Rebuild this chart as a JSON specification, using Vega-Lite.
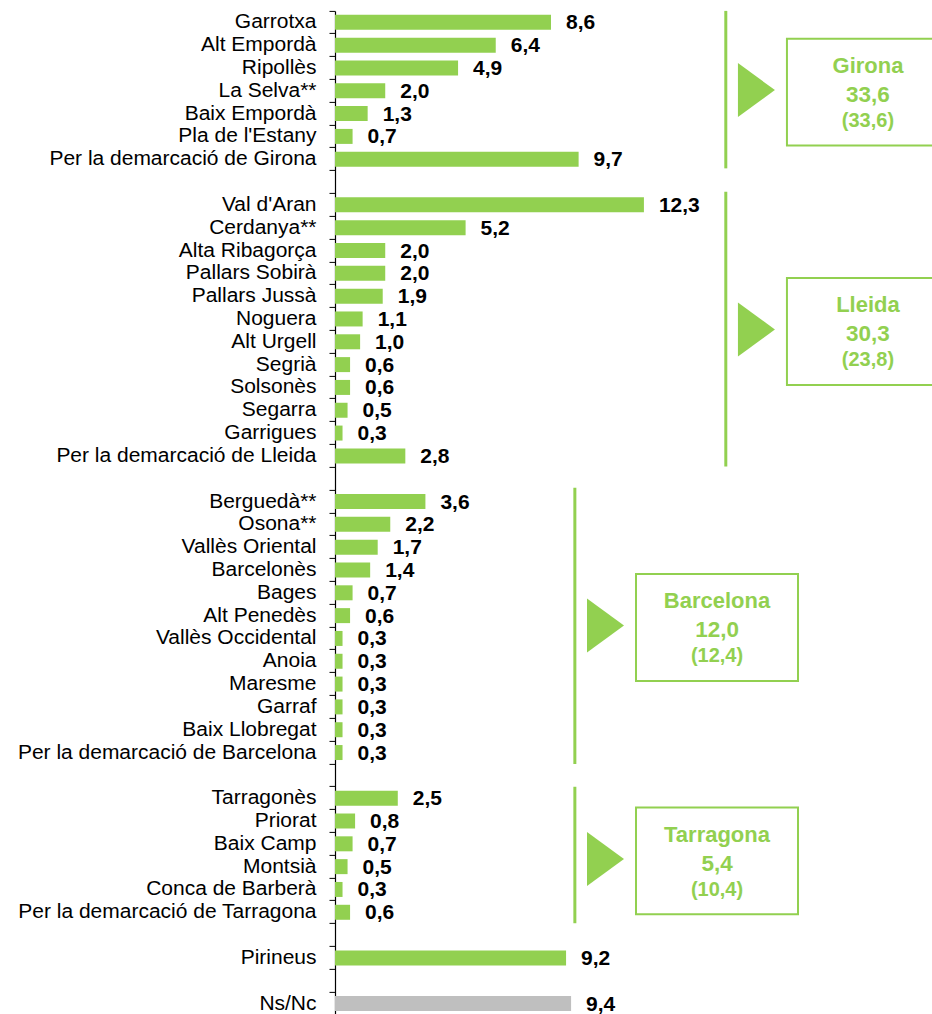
{
  "$schema": "https://vega.github.io/schema/vega-lite/v6.json",
  "width": 597,
  "height": 1004.08,
  "autosize": "none",
  "padding": {"left": 335, "top": 10.9, "right": 0, "bottom": 0},
  "background": "white",
  "config": {
    "view": {"stroke": null},
    "font": "Liberation Sans",
    "locale": {"number": {"decimal": ",", "thousands": ".", "grouping": [3], "currency": ["", " €"]}}
  },
  "datasets": {
    "bars": [
      {"name": "Garrotxa", "value": 8.6, "demarcacio": "Girona"},
      {"name": "Alt Empordà", "value": 6.4, "demarcacio": "Girona"},
      {"name": "Ripollès", "value": 4.9, "demarcacio": "Girona"},
      {"name": "La Selva**", "value": 2.0, "demarcacio": "Girona"},
      {"name": "Baix Empordà", "value": 1.3, "demarcacio": "Girona"},
      {"name": "Pla de l'Estany", "value": 0.7, "demarcacio": "Girona"},
      {"name": "Per la demarcació de Girona", "value": 9.7, "demarcacio": "Girona"},
      {"name": "Val d'Aran", "value": 12.3, "demarcacio": "Lleida"},
      {"name": "Cerdanya**", "value": 5.2, "demarcacio": "Lleida"},
      {"name": "Alta Ribagorça", "value": 2.0, "demarcacio": "Lleida"},
      {"name": "Pallars Sobirà", "value": 2.0, "demarcacio": "Lleida"},
      {"name": "Pallars Jussà", "value": 1.9, "demarcacio": "Lleida"},
      {"name": "Noguera", "value": 1.1, "demarcacio": "Lleida"},
      {"name": "Alt Urgell", "value": 1.0, "demarcacio": "Lleida"},
      {"name": "Segrià", "value": 0.6, "demarcacio": "Lleida"},
      {"name": "Solsonès", "value": 0.6, "demarcacio": "Lleida"},
      {"name": "Segarra", "value": 0.5, "demarcacio": "Lleida"},
      {"name": "Garrigues", "value": 0.3, "demarcacio": "Lleida"},
      {"name": "Per la demarcació de Lleida", "value": 2.8, "demarcacio": "Lleida"},
      {"name": "Berguedà**", "value": 3.6, "demarcacio": "Barcelona"},
      {"name": "Osona**", "value": 2.2, "demarcacio": "Barcelona"},
      {"name": "Vallès Oriental", "value": 1.7, "demarcacio": "Barcelona"},
      {"name": "Barcelonès", "value": 1.4, "demarcacio": "Barcelona"},
      {"name": "Bages", "value": 0.7, "demarcacio": "Barcelona"},
      {"name": "Alt Penedès", "value": 0.6, "demarcacio": "Barcelona"},
      {"name": "Vallès Occidental", "value": 0.3, "demarcacio": "Barcelona"},
      {"name": "Anoia", "value": 0.3, "demarcacio": "Barcelona"},
      {"name": "Maresme", "value": 0.3, "demarcacio": "Barcelona"},
      {"name": "Garraf", "value": 0.3, "demarcacio": "Barcelona"},
      {"name": "Baix Llobregat", "value": 0.3, "demarcacio": "Barcelona"},
      {"name": "Per la demarcació de Barcelona", "value": 0.3, "demarcacio": "Barcelona"},
      {"name": "Tarragonès", "value": 2.5, "demarcacio": "Tarragona"},
      {"name": "Priorat", "value": 0.8, "demarcacio": "Tarragona"},
      {"name": "Baix Camp", "value": 0.7, "demarcacio": "Tarragona"},
      {"name": "Montsià", "value": 0.5, "demarcacio": "Tarragona"},
      {"name": "Conca de Barberà", "value": 0.3, "demarcacio": "Tarragona"},
      {"name": "Per la demarcació de Tarragona", "value": 0.6, "demarcacio": "Tarragona"},
      {"name": "Pirineus", "value": 9.2, "demarcacio": "Pirineus"},
      {"name": "Ns/Nc", "value": 9.4, "demarcacio": "Ns/Nc"}
    ],
    "groups": [
      {"group": "Girona", "total": 33.6, "prev": "(33,6)", "first": 0, "end": 6.9, "mid": 3.47, "column": "right"},
      {"group": "Lleida", "total": 30.3, "prev": "(23,8)", "first": 7.92, "end": 19.97, "mid": 13.96, "column": "right"},
      {"group": "Barcelona", "total": 12.0, "prev": "(12,4)", "first": 20.9, "end": 33.0, "mid": 26.93, "column": "left"},
      {"group": "Tarragona", "total": 5.4, "prev": "(10,4)", "first": 34.0, "end": 39.98, "mid": 37.16, "column": "left"}
    ]
  },
  "resolve": {"scale": {"y": "independent"}},
  "layer": [
    {
      "data": {"name": "bars"},
      "encoding": {
        "y": {
          "field": "name",
          "type": "nominal",
          "title": null,
          "scale": {
            "paddingInner": 0,
            "paddingOuter": 0,
            "domain": [
              "Garrotxa", "Alt Empordà", "Ripollès", "La Selva**", "Baix Empordà", "Pla de l'Estany", "Per la demarcació de Girona",
              " ",
              "Val d'Aran", "Cerdanya**", "Alta Ribagorça", "Pallars Sobirà", "Pallars Jussà", "Noguera", "Alt Urgell", "Segrià", "Solsonès", "Segarra", "Garrigues", "Per la demarcació de Lleida",
              "  ",
              "Berguedà**", "Osona**", "Vallès Oriental", "Barcelonès", "Bages", "Alt Penedès", "Vallès Occidental", "Anoia", "Maresme", "Garraf", "Baix Llobregat", "Per la demarcació de Barcelona",
              "   ",
              "Tarragonès", "Priorat", "Baix Camp", "Montsià", "Conca de Barberà", "Per la demarcació de Tarragona",
              "    ",
              "Pirineus",
              "     ",
              "Ns/Nc"
            ]
          },
          "axis": {
            "title": null,
            "labelFont": "Liberation Sans",
            "labelFontSize": 21,
            "labelColor": "#000000",
            "labelPadding": 13,
            "labelOffset": 0,
            "labelLimit": 500,
            "bandPosition": 0,
            "ticks": true,
            "tickSize": 6,
            "tickColor": "#000000",
            "tickWidth": 1,
            "domainColor": "#000000",
            "domainWidth": 1.2,
            "grid": false
          }
        },
        "x": {
          "field": "value",
          "type": "quantitative",
          "scale": {"domain": [0, 23.77], "nice": false, "zero": true},
          "axis": null
        }
      },
      "layer": [
        {
          "mark": {"type": "bar", "height": {"band": 0.657}},
          "encoding": {
            "color": {
              "condition": {"test": "datum.demarcacio === 'Ns/Nc'", "value": "#BFBFBF"},
              "value": "#92D050"
            }
          }
        },
        {
          "mark": {"type": "text", "align": "left", "baseline": "middle", "dx": 15, "dy": 1, "fontSize": 21, "fontWeight": "bold", "color": "#000000", "font": "Liberation Sans"},
          "encoding": {"text": {"field": "value", "type": "quantitative", "format": ".1f"}}
        }
      ]
    },
    {
      "data": {"name": "groups"},
      "transform": [{"filter": "datum.column === 'right'"}],
      "encoding": {
        "y": {"field": "mid", "type": "quantitative", "scale": {"domain": [0, 44], "reverse": true, "nice": false, "zero": false}, "axis": null}
      },
      "layer": [
        {
          "mark": {"type": "rule", "color": "#92D050", "strokeWidth": 3},
          "encoding": {
            "x": {"datum": 15.56, "type": "quantitative", "scale": {"domain": [0, 23.77], "nice": false, "zero": true}, "axis": null},
            "y": {"field": "first", "type": "quantitative", "scale": {"domain": [0, 44], "reverse": true, "nice": false, "zero": false}, "axis": null},
            "y2": {"field": "end"}
          }
        },
        {
          "mark": {"type": "point", "shape": "M-0.685,-1L0.685,0L-0.685,1Z", "size": 2916, "filled": true, "color": "#92D050", "opacity": 1, "strokeWidth": 0},
          "encoding": {"x": {"datum": 16.78, "type": "quantitative", "scale": {"domain": [0, 23.77], "nice": false, "zero": true}, "axis": null}}
        },
        {
          "mark": {"type": "point", "shape": "M-1,-0.635L1,-0.635L1,0.685L-1,0.685Z", "size": 26244, "filled": false, "color": "#92D050", "strokeWidth": 2, "opacity": 1},
          "encoding": {"x": {"datum": 21.22, "type": "quantitative", "scale": {"domain": [0, 23.77], "nice": false, "zero": true}, "axis": null}}
        },
        {
          "mark": {"type": "text", "align": "center", "baseline": "alphabetic", "dy": -17, "fontSize": 22, "fontWeight": "bold", "color": "#92D050", "font": "Liberation Sans"},
          "encoding": {
            "x": {"datum": 21.22, "type": "quantitative", "scale": {"domain": [0, 23.77], "nice": false, "zero": true}, "axis": null},
            "text": {"field": "group"}
          }
        },
        {
          "mark": {"type": "text", "align": "center", "baseline": "alphabetic", "dy": 12, "fontSize": 22.5, "fontWeight": "bold", "color": "#92D050", "font": "Liberation Sans"},
          "encoding": {
            "x": {"datum": 21.22, "type": "quantitative", "scale": {"domain": [0, 23.77], "nice": false, "zero": true}, "axis": null},
            "text": {"field": "total", "type": "quantitative", "format": ".1f"}
          }
        },
        {
          "mark": {"type": "text", "align": "center", "baseline": "alphabetic", "dy": 37, "fontSize": 20, "fontWeight": "bold", "color": "#92D050", "font": "Liberation Sans"},
          "encoding": {
            "x": {"datum": 21.22, "type": "quantitative", "scale": {"domain": [0, 23.77], "nice": false, "zero": true}, "axis": null},
            "text": {"field": "prev"}
          }
        }
      ]
    },
    {
      "data": {"name": "groups"},
      "transform": [{"filter": "datum.column === 'left'"}],
      "encoding": {
        "y": {"field": "mid", "type": "quantitative", "scale": {"domain": [0, 44], "reverse": true, "nice": false, "zero": false}, "axis": null}
      },
      "layer": [
        {
          "mark": {"type": "rule", "color": "#92D050", "strokeWidth": 3},
          "encoding": {
            "x": {"datum": 9.55, "type": "quantitative", "scale": {"domain": [0, 23.77], "nice": false, "zero": true}, "axis": null},
            "y": {"field": "first", "type": "quantitative", "scale": {"domain": [0, 44], "reverse": true, "nice": false, "zero": false}, "axis": null},
            "y2": {"field": "end"}
          }
        },
        {
          "mark": {"type": "point", "shape": "M-0.685,-1L0.685,0L-0.685,1Z", "size": 2916, "filled": true, "color": "#92D050", "opacity": 1, "strokeWidth": 0},
          "encoding": {"x": {"datum": 10.77, "type": "quantitative", "scale": {"domain": [0, 23.77], "nice": false, "zero": true}, "axis": null}}
        },
        {
          "mark": {"type": "point", "shape": "M-1,-0.635L1,-0.635L1,0.685L-1,0.685Z", "size": 26244, "filled": false, "color": "#92D050", "strokeWidth": 2, "opacity": 1},
          "encoding": {"x": {"datum": 15.21, "type": "quantitative", "scale": {"domain": [0, 23.77], "nice": false, "zero": true}, "axis": null}}
        },
        {
          "mark": {"type": "text", "align": "center", "baseline": "alphabetic", "dy": -17, "fontSize": 22, "fontWeight": "bold", "color": "#92D050", "font": "Liberation Sans"},
          "encoding": {
            "x": {"datum": 15.21, "type": "quantitative", "scale": {"domain": [0, 23.77], "nice": false, "zero": true}, "axis": null},
            "text": {"field": "group"}
          }
        },
        {
          "mark": {"type": "text", "align": "center", "baseline": "alphabetic", "dy": 12, "fontSize": 22.5, "fontWeight": "bold", "color": "#92D050", "font": "Liberation Sans"},
          "encoding": {
            "x": {"datum": 15.21, "type": "quantitative", "scale": {"domain": [0, 23.77], "nice": false, "zero": true}, "axis": null},
            "text": {"field": "total", "type": "quantitative", "format": ".1f"}
          }
        },
        {
          "mark": {"type": "text", "align": "center", "baseline": "alphabetic", "dy": 37, "fontSize": 20, "fontWeight": "bold", "color": "#92D050", "font": "Liberation Sans"},
          "encoding": {
            "x": {"datum": 15.21, "type": "quantitative", "scale": {"domain": [0, 23.77], "nice": false, "zero": true}, "axis": null},
            "text": {"field": "prev"}
          }
        }
      ]
    }
  ]
}
